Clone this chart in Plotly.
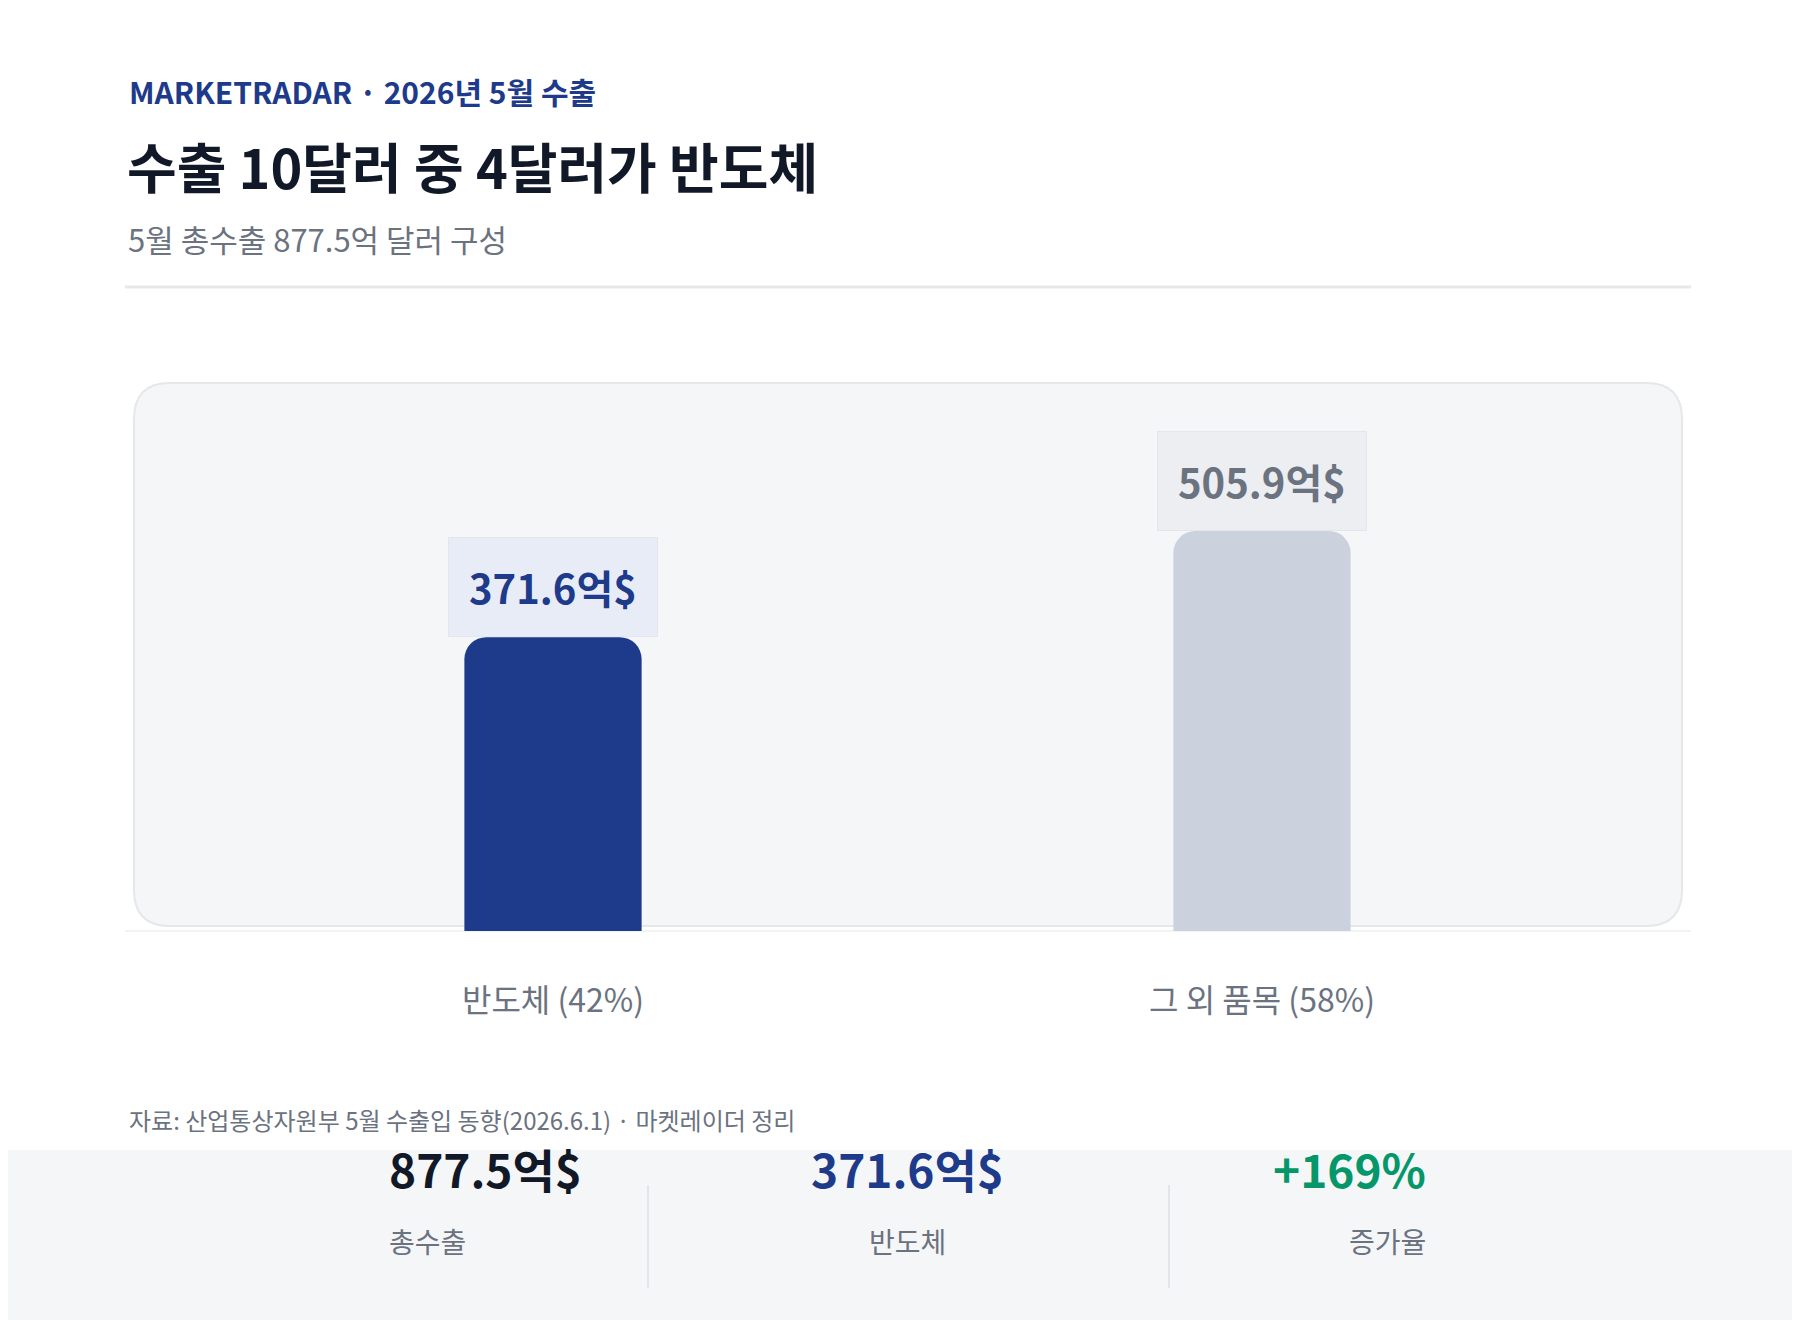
import plotly.graph_objects as go

categories = ["반도체 (42%)", "그 외 품목 (58%)"]
values = [371.6, 505.9]
value_labels = ["371.6억$", "505.9억$"]
bar_colors = ["#1e3a8a", "#cbd2de"]
label_colors = ["#1e3a8a", "#6b7280"]
label_bgs = ["#e8ecf6", "#eceef2"]
stat_values = ["877.5억$", "371.6억$", "+169%"]
stat_names = ["총수출", "반도체", "증가율"]
stat_colors = ["#111827", "#1e3a8a", "#059669"]

W, H = 1800, 1320
FONT = "Noto Sans CJK KR"


def px(x):
    return x / W


def py(y):
    return 1 - y / H


def rounded_rect(x0, y0, x1, y1, r):
    rx, ry = r / W, r / H
    X0, X1 = px(x0), px(x1)
    Y0, Y1 = py(y0), py(y1)  # Y0 top, Y1 bottom
    return (f"M{X0+rx},{Y0} L{X1-rx},{Y0} Q{X1},{Y0} {X1},{Y0-ry} "
            f"L{X1},{Y1+ry} Q{X1},{Y1} {X1-rx},{Y1} L{X0+rx},{Y1} "
            f"Q{X0},{Y1} {X0},{Y1+ry} L{X0},{Y0-ry} Q{X0},{Y0} {X0+rx},{Y0} Z")


fig = go.Figure(go.Bar(
    x=[0, 1], y=values, width=0.25,
    marker=dict(color=bar_colors, cornerradius=22, line=dict(width=0)),
    hoverinfo="skip",
))

shapes = [
    dict(type="line", xref="paper", yref="paper", x0=px(117), x1=px(1683), y0=py(279), y1=py(279),
         line=dict(color="#e5e7eb", width=3)),
    dict(type="path", xref="paper", yref="paper", path=rounded_rect(126, 375, 1674, 918, 36),
         fillcolor="#f5f6f8", line=dict(color="#e5e7eb", width=2), layer="below"),
    dict(type="line", xref="paper", yref="paper", x0=px(117), x1=px(1683), y0=py(923), y1=py(923),
         line=dict(color="#e5e7eb", width=1), layer="below"),
    dict(type="rect", xref="paper", yref="paper", x0=0, x1=1, y0=py(1142), y1=0,
         fillcolor="#f5f6f8", line=dict(width=0), layer="below"),
]
for xd in [640, 1161]:
    shapes.append(dict(type="line", xref="paper", yref="paper", x0=px(xd), x1=px(xd),
                       y0=py(1177), y1=py(1280), line=dict(color="#e2e5ea", width=2)))

ann = [
    dict(x=px(119), y=py(83), text="<b>MARKETRADAR · 2026년 5월 수출</b>",
         font=dict(size=30, color="#1e3a8a")),
    dict(x=px(117), y=py(158), text="<b>수출 10달러 중 4달러가 반도체</b>",
         font=dict(size=54, color="#111827")),
    dict(x=px(118), y=py(230), text="5월 총수출 877.5억 달러 구성",
         font=dict(size=31, color="#6b7280")),
    dict(x=px(119), y=py(1111), text="자료: 산업통상자원부 5월 수출입 동향(2026.6.1) · 마켓레이더 정리",
         font=dict(size=24, color="#6b7280")),
]
for a in ann:
    a.update(xref="paper", yref="paper", xanchor="left", yanchor="middle", showarrow=False)

for i, v in enumerate(values):
    ann.append(dict(x=i, y=v, xref="x", yref="y", yanchor="bottom", yshift=0, showarrow=False,
                    text=f"<b>{value_labels[i]}</b>", font=dict(size=40, color=label_colors[i]),
                    bgcolor=label_bgs[i], bordercolor="#e3e6ec", borderwidth=1, borderpad=20))

for cx, v, n, c in zip([379, 899, 1420], stat_values, stat_names, stat_colors):
    ann.append(dict(x=px(cx), y=py(1195), xref="paper", yref="paper", showarrow=False,
                    text=f"<b>{v}</b>", font=dict(size=46, color=c)))
    ann.append(dict(x=px(cx), y=py(1255), xref="paper", yref="paper", showarrow=False,
                    text=n, font=dict(size=28, color="#6b7280")))

fig.update_layout(
    width=W, height=H, margin=dict(l=0, r=0, t=0, b=0),
    paper_bgcolor="white", plot_bgcolor="rgba(0,0,0,0)",
    font=dict(family=FONT), showlegend=False,
    shapes=shapes, annotations=ann,
    xaxis=dict(domain=[190.5 / W, 1608.5 / W], range=[-0.5, 1.5], tickvals=[0, 1], ticktext=categories,
               tickfont=dict(size=32, color="#6b7280"), showgrid=False, zeroline=False,
               showline=False, ticks="", ticklabelstandoff=48, fixedrange=True),
    yaxis=dict(domain=[py(923), py(375)], range=[0, 693], visible=False, fixedrange=True),
)

fig.write_html("out.html")
